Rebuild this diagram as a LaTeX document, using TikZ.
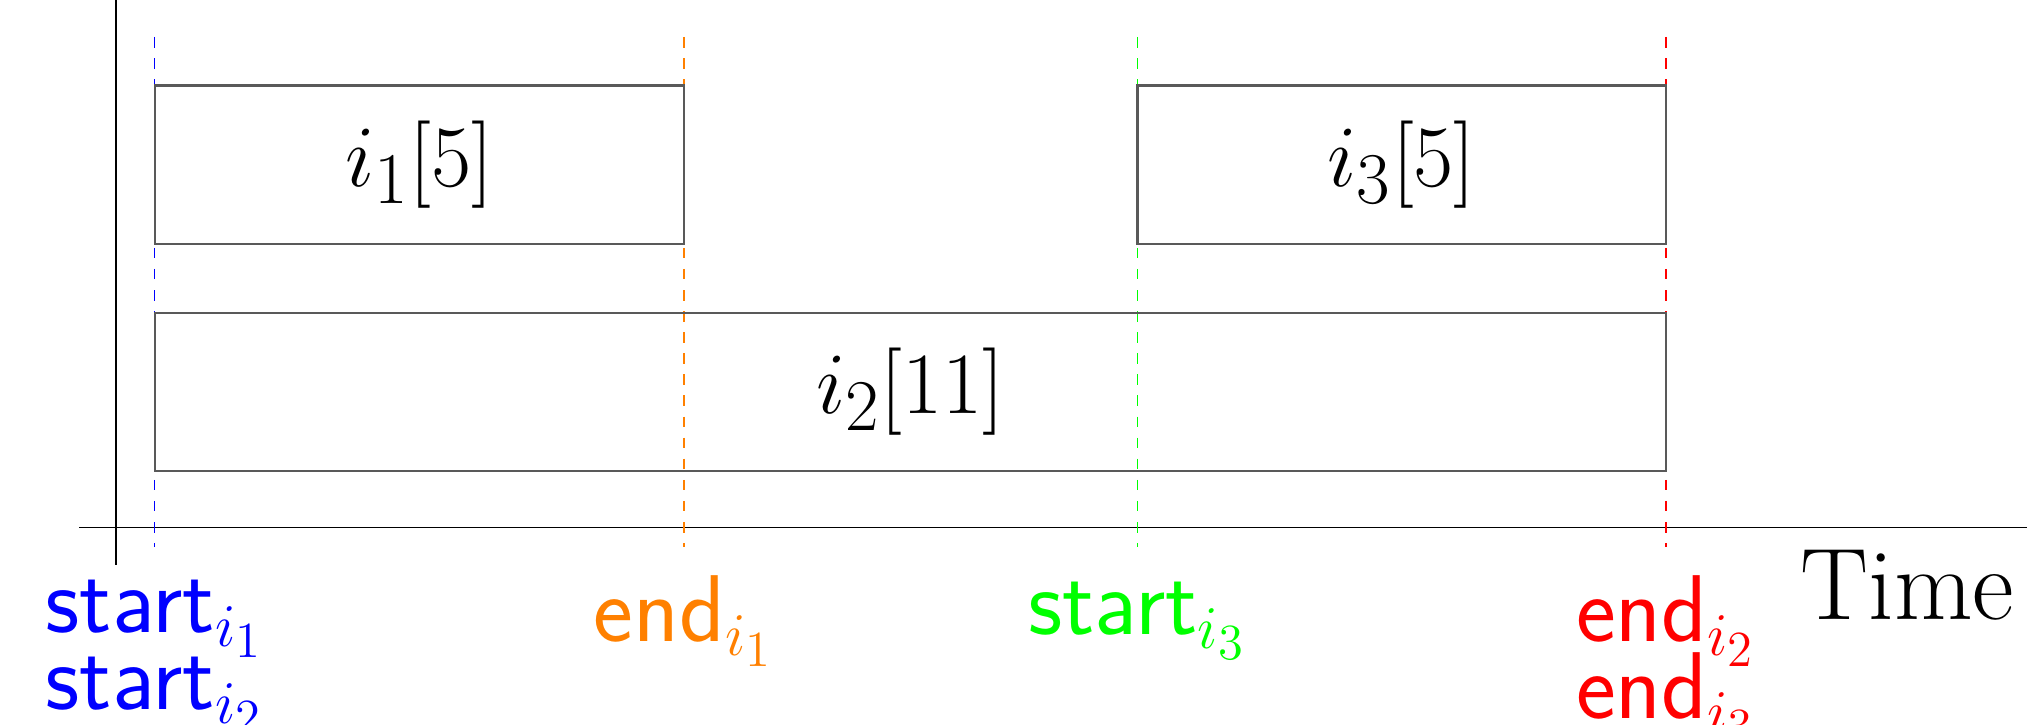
\documentclass[tikz,border=0pt]{standalone}
\usetikzlibrary{positioning}
\definecolor{startcolor1}{rgb}{0,0,1}
\definecolor{endcolor1}{rgb}{1,0.5,0}
\definecolor{startcolor3}{rgb}{0,1,0}
\definecolor{endcolor2}{rgb}{1,0,0}
\tikzset{
  taskbox/.style={draw=black!65,line width=0.6pt,inner sep=0,minimum height=1.585cm,font=\fontsize{28.5}{34}\selectfont},
  timelabel/.style={inner sep=0,font=\fontsize{27}{33}\selectfont\sffamily},
  timeline/.style={dashed,line width=0.5pt}
}
\begin{document}
\begin{tikzpicture}
\useasboundingbox (0,0) rectangle (20.27,7.25);
\coordinate (axisleft) at (0.79,1.975);
\coordinate (axisright) at (20.27,1.975);
\coordinate (axisbottom) at (1.163,1.6);
\coordinate (axistop) at (1.163,7.25);
\draw[black,line width=0.5pt] (axisleft) -- (axisright);
\draw[black,line width=0.5pt] (axisbottom) -- (axistop);
\node[anchor=base east,inner sep=0,font=\fontsize{29}{35}\selectfont] (time) at (20.15,1.057) {Time};
\foreach \name/\x/\col in {s1/1.546/startcolor1,e1/6.837/endcolor1,s3/11.375/startcolor3,e2/16.661/endcolor2}{
  \coordinate (\name top) at (\x,6.88);
  \coordinate (\name bot) at (\x,1.78);
  \draw[timeline,\col] (\name top) -- (\name bot);
}
\node[taskbox,minimum width=5.291cm] (i1) at (4.1915,5.6025) {$i_1[5]$};
\node[taskbox,minimum width=5.286cm] (i3) at (14.018,5.6025) {$i_3[5]$};
\node[taskbox,minimum width=15.115cm] (i2) at (9.1035,3.33) {$i_2[11]$};
\node[timelabel,startcolor1,anchor=base] (start1) at (1.546,0.92) {start$_{i_1}$};
\node[timelabel,startcolor1,anchor=base] (start2) at ([yshift=-7.7mm]start1.base) {start$_{i_2}$};
\node[timelabel,endcolor1,anchor=base] (end1) at (6.837,0.83) {end$_{i_1}$};
\node[timelabel,startcolor3,anchor=base] (start3) at (11.375,0.90) {start$_{i_3}$};
\node[timelabel,endcolor2,anchor=base] (end2) at (16.661,0.83) {end$_{i_2}$};
\node[timelabel,endcolor2,anchor=base] (end3) at ([yshift=-7.7mm]end2.base) {end$_{i_3}$};
\end{tikzpicture}
\end{document}
